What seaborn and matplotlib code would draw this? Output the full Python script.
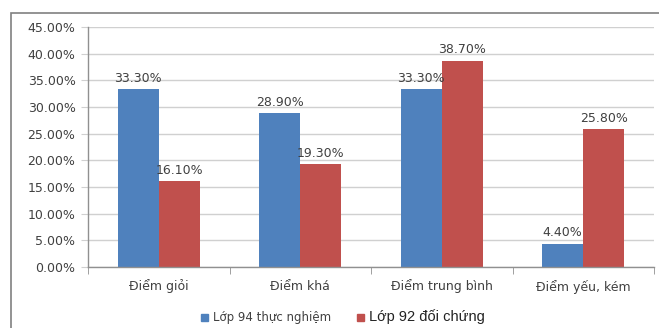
import pandas as pd
import seaborn as sns
import matplotlib.pyplot as plt
from matplotlib.patches import Rectangle
from matplotlib.ticker import FuncFormatter, FixedLocator

# data (percent)
categories = ["Điểm giỏi", "Điểm khá", "Điểm trung bình", "Điểm yếu, kém"]
series_names = ["Lớp 94 thực nghiệm", "Lớp 92 đối chứng"]
lop94 = [33.3, 28.9, 33.3, 4.4]
lop92 = [16.1, 19.3, 38.7, 25.8]
colors = ["#4F81BD", "#C0504D"]

df = pd.DataFrame({
    "cat": categories * 2,
    "group": [series_names[0]] * 4 + [series_names[1]] * 4,
    "value": lop94 + lop92,
})

sns.set_style("white")
plt.rcParams["font.family"] = ["DejaVu Sans"]

fig = plt.figure(figsize=(6.59, 3.28), dpi=100)
ax = fig.add_axes([88 / 659, 61 / 328, 566 / 659, 240 / 328])

sns.barplot(data=df, x="cat", y="value", hue="group", palette=colors,
            width=0.58, saturation=1, ax=ax, legend=False, edgecolor="none")

text_col = "#404040"
for container in ax.containers:
    ax.bar_label(container, labels=[f"{v:.2f}%" for v in container.datavalues],
                 padding=3, fontsize=9, color=text_col)

ax.set_ylim(0, 45)
ax.set_xlim(-0.5, 3.5)
ax.set_yticks(range(0, 50, 5))
ax.yaxis.set_major_formatter(FuncFormatter(lambda v, p: f"{v:.2f}%"))
ax.yaxis.grid(True, color="#d0d0d0", linewidth=1)
ax.set_axisbelow(True)
ax.set_xlabel("")
ax.set_ylabel("")

ax.xaxis.set_minor_locator(FixedLocator([-0.5, 0.5, 1.5, 2.5, 3.5]))
ax.tick_params(axis="x", which="major", length=0, pad=9, labelsize=9, labelcolor=text_col)
ax.tick_params(axis="x", which="minor", length=5, color="#909090", bottom=True)
ax.tick_params(axis="y", length=5, color="#d0d0d0", left=True, pad=4, labelsize=9, labelcolor=text_col)

for s in ["top", "right"]:
    ax.spines[s].set_visible(False)
for s in ["left", "bottom"]:
    ax.spines[s].set_color("#909090")
    ax.spines[s].set_linewidth(1)

# legend
handles = [Rectangle((0, 0), 1, 1, color=c) for c in colors]
leg = fig.legend(handles, series_names, loc="center", bbox_to_anchor=(0.52, 11 / 328),
                 ncol=2, frameon=False, handlelength=0.6, handleheight=0.6,
                 handletextpad=0.4, columnspacing=2.2, fontsize=8.5)
for t in leg.get_texts():
    t.set_color(text_col)
leg.get_texts()[1].set_fontfamily("Liberation Sans")
leg.get_texts()[1].set_fontsize(10.5)
leg.get_texts()[1].set_color("#222222")

# outer chart border
fig.patches.append(Rectangle((11 / 659, -0.1), 1.0, (328 - 13) / 328 + 0.1,
                             transform=fig.transFigure, fill=False,
                             edgecolor="#808080", linewidth=1.2))

fig.savefig("out.png", dpi=100)
